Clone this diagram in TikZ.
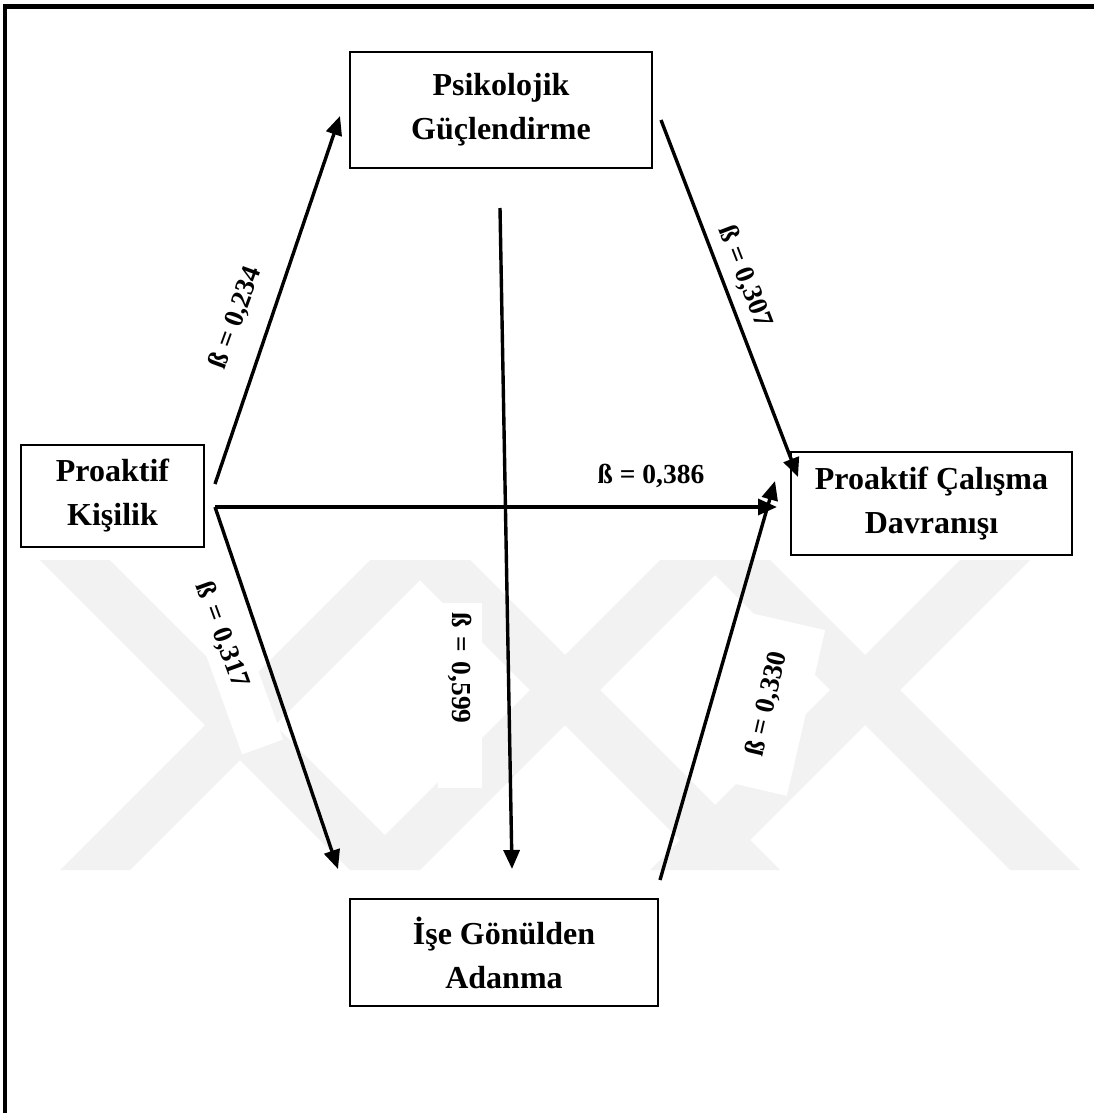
\documentclass[tikz,border=0pt]{standalone}
\usepackage{fontspec}
\setmainfont{Liberation Serif}
\usetikzlibrary{arrows.meta, calc}

\begin{document}
\begin{tikzpicture}[
      x=1pt, y=-1pt,
      kutu/.style   ={rectangle, draw, line width=2.2pt, fill=white, align=center, inner sep=0pt,
                      font=\fontsize{32}{44}\selectfont\bfseries},
      katsayi/.style={font=\fontsize{27.5}{32}\selectfont\bfseries, inner sep=0pt},
      yama/.style   ={katsayi, fill=white, inner sep=10pt, text width=165pt, align=left},
      yama2/.style  ={katsayi, fill=white, minimum width=170pt, minimum height=80pt},
      iz/.style     ={fill=black!5, draw=none},
      yol/.style    ={line width=3.4pt, -{Triangle[length=19pt,width=16pt]}}
    ]
    \useasboundingbox (0,0) rectangle (1094,1113);

    % Cerceve
    \draw[line width=5pt] (3,7) -- (1094,7);
    \draw[line width=4pt] (5,5) -- (5,1113);

    % Filigran
    \foreach \a/\b in {40/350, 400/710, 700/1010}
      \fill[iz] (\a,560) -- (\a+70,560) -- (\b+70,870) -- (\b,870) -- cycle;
    \foreach \a/\b in {370/60, 660/350, 960/650}
      \fill[iz] (\a,560) -- (\a+70,560) -- (\b+70,870) -- (\b,870) -- cycle;

    % Degiskenler
    \node[kutu, minimum width=302pt, minimum height=116pt] (PG)  at (501,110)   {Psikolojik\\Güçlendirme};
    \node[kutu, minimum width=183pt, minimum height=102pt] (PK)  at (112.5,496) {Proaktif\\Kişilik};
    \node[kutu, minimum width=281pt, minimum height=103pt] (PCD) at (931.5,503.5) {Proaktif Çalışma\\Davranışı};
    \node[kutu, minimum width=308pt, minimum height=107pt] (IGA) at (504,952.5) {İşe Gönülden\\Adanma};

    % Katsayilar
    \node[katsayi, rotate=70]  (b1) at (236,318) {ß = 0,234};
    \node[katsayi, rotate=-69] (b2) at (745,277) {ß = 0,307};
    \node[katsayi]             (b3) at (651,476) {ß = 0,386};
    \node[yama, rotate=-70]    (b4) at (231,660) {ß = 0,317};
    \node[yama, rotate=-90]    (b5) at (460,695) {ß = 0,599};
    \node[yama2, rotate=77]    (b6) at (767,704) {ß = 0,330};

    % Ok uclari
    \coordinate (pk-ust) at (215,484);
    \coordinate (pk-orta) at (215,507);
    \coordinate (pg-sag) at (661,120);
    \coordinate (pg-alt) at (500,208);
    \coordinate (iga-sag) at (660,880);
    \coordinate (pg-giris) at (340,116);
    \coordinate (iga-giris1) at (338,869);
    \coordinate (iga-giris2) at (512,869);
    \coordinate (pcd-ust) at (798,477);
    \coordinate (pcd-orta) at (777,507);
    \coordinate (pcd-alt) at (775,481);

    % Yollar
    \draw[yol] (pk-ust)  -- (pg-giris);
    \draw[yol] (pk-orta) -- (iga-giris1);
    \draw[yol] (pk-orta) -- (pcd-orta);
    \draw[yol] (pg-sag)  -- (pcd-ust);
    \draw[yol] (pg-alt)  -- (iga-giris2);
    \draw[yol] (iga-sag) -- (pcd-alt);

  \end{tikzpicture}
\end{document}
